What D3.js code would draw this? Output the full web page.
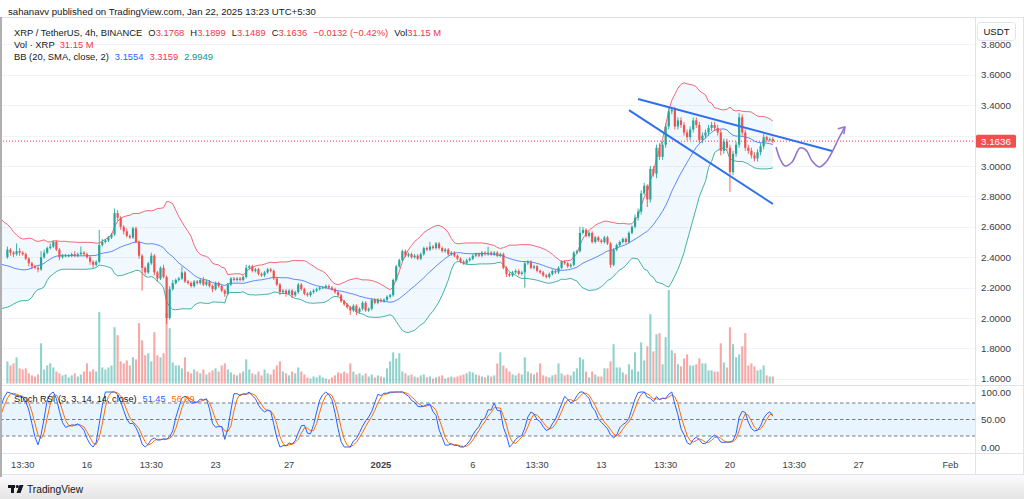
<!DOCTYPE html>
<html><head><meta charset="utf-8">
<script src="https://cdn.jsdelivr.net/npm/d3@7/dist/d3.min.js"></script>
<style>
body{margin:0;background:#fff;overflow:hidden}
svg{display:block;font-family:"Liberation Sans",Arial,sans-serif}
</style></head>
<body><svg id="c" width="1024" height="499"></svg>
<script>
// ---------------- DATA ----------------
// 4h bars (exchange time shown as UTC+5:30). First visible bar: 11 Dec 2024 17:30
const firstBar = Date.UTC(2024, 11, 11, 17, 30);
const barMs = 4 * 3600 * 1000;
// closes of the bars preceding the visible window (needed for BB / Stoch RSI warm-up, off screen)
const warmupCloses = [2.40, 2.33,
  2.36, 2.41, 2.45, 2.50, 2.48, 2.52,
  2.55, 2.52, 2.50, 2.48, 2.49, 2.50,
  2.52, 2.55, 2.53, 2.56, 2.57, 2.55,
  2.52, 2.47, 2.38, 2.28, 2.18, 2.13,
  2.20, 2.30, 2.25, 2.15, 2.22, 2.27,
  2.30, 2.33, 2.36, 2.40];
// visible bars: close
const closes = [2.45, 2.43,
  2.42, 2.44, 2.43, 2.42, 2.39, 2.36,
  2.34, 2.33, 2.32, 2.40, 2.43, 2.46,
  2.47, 2.50, 2.45, 2.40, 2.41, 2.41,
  2.41, 2.42, 2.41, 2.42, 2.43, 2.42,
  2.40, 2.37, 2.35, 2.37, 2.48, 2.50,
  2.51, 2.53, 2.55, 2.69, 2.66, 2.60,
  2.57, 2.54, 2.53, 2.59, 2.50, 2.41,
  2.33, 2.30, 2.36, 2.41, 2.30, 2.26,
  2.33, 2.27, 2.00, 2.19, 2.23, 2.25,
  2.26, 2.30, 2.24, 2.23, 2.21, 2.24,
  2.23, 2.25, 2.22, 2.24, 2.21, 2.19,
  2.23, 2.21, 2.18, 2.16, 2.22, 2.26,
  2.25, 2.26, 2.25, 2.27, 2.33, 2.34,
  2.31, 2.32, 2.29, 2.28, 2.30, 2.32,
  2.31, 2.26, 2.22, 2.17, 2.18, 2.16,
  2.18, 2.15, 2.17, 2.22, 2.19, 2.16,
  2.15, 2.17, 2.18, 2.19, 2.20, 2.20,
  2.21, 2.20, 2.19, 2.17, 2.15, 2.11,
  2.09, 2.07, 2.05, 2.08, 2.04, 2.06,
  2.10, 2.05, 2.06, 2.12, 2.10, 2.12,
  2.11, 2.12, 2.14, 2.15, 2.25, 2.34,
  2.38, 2.44, 2.41, 2.42, 2.40, 2.41,
  2.39, 2.42, 2.46, 2.45, 2.47, 2.46,
  2.49, 2.46, 2.44, 2.45, 2.42, 2.43,
  2.41, 2.39, 2.37, 2.36, 2.38, 2.39,
  2.41, 2.42, 2.41, 2.43, 2.42, 2.43,
  2.42, 2.43, 2.41, 2.42, 2.33, 2.29,
  2.28, 2.30, 2.31, 2.29, 2.30, 2.36,
  2.37, 2.33, 2.34, 2.31, 2.30, 2.28,
  2.27, 2.29, 2.31, 2.30, 2.33, 2.37,
  2.36, 2.34, 2.35, 2.43, 2.44, 2.56,
  2.58, 2.54, 2.56, 2.50, 2.53, 2.51,
  2.50, 2.53, 2.49, 2.35, 2.45, 2.48,
  2.50, 2.52, 2.50, 2.56, 2.60, 2.66,
  2.70, 2.82, 2.87, 2.78, 2.98, 2.95,
  3.12, 3.06, 3.14, 3.26, 3.36, 3.37,
  3.26, 3.30, 3.27, 3.22, 3.19, 3.24,
  3.30, 3.27, 3.17, 3.20, 3.22, 3.25,
  3.27, 3.25, 3.22, 3.10, 3.16, 3.12,
  2.96, 3.08, 3.14, 3.32, 3.22, 3.12,
  3.10, 3.07, 3.05, 3.09, 3.13, 3.19,
  3.17, 3.1768, 3.1636];
// wick above the body top
const upperWicks = [.02, .01,
  .01, .05, .02, .01, .01, .01,
  .01, .01, .01, .04, .02, .01,
  .02, .01, .01, .01, .01, .01,
  .01, .01, .02, .01, .04, .01,
  .01, .01, .01, .01, .10, .02,
  .01, .01, .01, .03, .02, .01,
  .01, .02, .01, .01, .01, .01,
  .01, .01, .01, .02, .01, .01,
  .01, .02, .01, .02, .02, .01,
  .01, .04, .01, .01, .01, .01,
  .01, .01, .02, .01, .01, .01,
  .01, .01, .01, .01, .01, .01,
  .01, .01, .01, .01, .02, .01,
  .01, .01, .01, .01, .01, .01,
  .01, .01, .01, .01, .01, .01,
  .01, .01, .01, .01, .01, .01,
  .01, .01, .01, .01, .01, .01,
  .01, .01, .01, .01, .01, .01,
  .01, .01, .01, .01, .01, .01,
  .01, .01, .01, .01, .01, .01,
  .01, .01, .01, .01, .01, .01,
  .01, .01, .01, .01, .01, .01,
  .01, .01, .01, .01, .03, .01,
  .01, .01, .01, .01, .01, .01,
  .01, .01, .01, .01, .01, .01,
  .01, .01, .01, .01, .01, .04,
  .01, .01, .01, .01, .01, .01,
  .01, .01, .01, .01, .01, .01,
  .01, .01, .01, .01, .01, .01,
  .01, .01, .01, .01, .01, .01,
  .01, .01, .01, .01, .01, .04,
  .02, .01, .01, .01, .01, .01,
  .01, .01, .01, .01, .01, .01,
  .01, .01, .01, .01, .01, .02,
  .02, .02, .02, .01, .02, .02,
  .02, .03, .02, .02, .02, .02,
  .02, .02, .02, .02, .02, .02,
  .02, .02, .02, .02, .02, .02,
  .02, .02, .02, .02, .02, .02,
  .02, .02, .02, .03, .02, .02,
  .02, .02, .02, .02, .02, .02,
  .01, .01, .0131];
// wick below the body bottom
const lowerWicks = [.01, .02,
  .02, .01, .02, .01, .01, .02,
  .02, .01, .02, .01, .01, .01,
  .01, .01, .01, .02, .01, .01,
  .01, .01, .01, .01, .01, .01,
  .01, .02, .02, .01, .01, .01,
  .01, .01, .01, .01, .02, .02,
  .02, .01, .01, .01, .01, .02,
  .15, .02, .01, .01, .02, .02,
  .01, .01, .04, .01, .01, .01,
  .01, .01, .01, .01, .01, .01,
  .01, .01, .01, .01, .01, .02,
  .01, .01, .01, .02, .01, .01,
  .01, .01, .01, .01, .01, .01,
  .01, .01, .01, .01, .01, .01,
  .01, .01, .01, .02, .01, .02,
  .01, .02, .01, .01, .01, .01,
  .01, .01, .01, .01, .01, .01,
  .01, .01, .01, .01, .01, .01,
  .01, .01, .03, .01, .02, .01,
  .01, .01, .01, .01, .01, .01,
  .01, .01, .01, .01, .01, .01,
  .01, .01, .01, .01, .01, .01,
  .01, .01, .01, .01, .01, .01,
  .01, .01, .01, .01, .01, .01,
  .01, .01, .01, .01, .01, .01,
  .01, .01, .01, .01, .01, .01,
  .01, .01, .01, .01, .01, .02,
  .01, .01, .01, .01, .01, .10,
  .01, .01, .01, .01, .01, .01,
  .01, .01, .01, .01, .01, .01,
  .01, .01, .01, .01, .01, .01,
  .01, .01, .01, .01, .01, .01,
  .01, .01, .01, .02, .01, .01,
  .01, .01, .01, .01, .01, .01,
  .02, .02, .01, .05, .02, .02,
  .03, .02, .02, .02, .02, .02,
  .02, .02, .02, .02, .02, .02,
  .02, .02, .02, .02, .02, .02,
  .02, .02, .02, .03, .02, .02,
  .13, .02, .02, .02, .02, .02,
  .02, .02, .02, .02, .02, .02,
  .01, .01, .0147];
// volume, millions XRP
const volumes = [98, 80,
  89, 116, 67, 62, 67, 45,
  36, 31, 40, 178, 62, 80,
  89, 71, 53, 45, 36, 40,
  27, 36, 45, 31, 40, 53,
  89, 53, 62, 53, 316, 71,
  62, 71, 80, 249, 214, 98,
  89, 102, 80, 116, 107, 267,
  191, 125, 134, 98, 227, 125,
  116, 134, 312, 245, 93, 80,
  80, 67, 116, 53, 45, 62,
  53, 45, 62, 40, 49, 58,
  67, 53, 80, 89, 62, 49,
  40, 36, 45, 53, 107, 62,
  45, 40, 53, 36, 62, 45,
  40, 62, 80, 98, 53, 45,
  36, 53, 45, 71, 53, 40,
  27, 22, 31, 27, 36, 27,
  22, 18, 27, 36, 49, 45,
  53, 45, 89, 53, 40, 45,
  36, 45, 31, 40, 27, 36,
  31, 27, 67, 98, 138, 111,
  134, 53, 45, 36, 40, 31,
  27, 36, 40, 27, 31, 22,
  27, 31, 36, 22, 27, 31,
  27, 31, 36, 40, 45, 53,
  49, 40, 36, 31, 27, 36,
  31, 36, 89, 138, 80, 67,
  53, 40, 36, 45, 40, 116,
  53, 45, 40, 49, 89, 36,
  31, 27, 36, 40, 89, 45,
  36, 40, 36, 53, 67, 116,
  107, 53, 27, 53, 40, 31,
  31, 67, 67, 98, 174, 71,
  71, 49, 40, 85, 62, 138,
  53, 182, 102, 165, 307, 142,
  218, 223, 85, 205, 414, 147,
  134, 85, 76, 111, 129, 80,
  80, 85, 111, 89, 89, 58,
  58, 53, 53, 178, 93, 71,
  249, 174, 116, 129, 165, 223,
  80, 89, 76, 58, 62, 80,
  36, 31, 31.15];

const priceTicks = [3.8, 3.6, 3.4, 3.2, 3.0, 2.8, 2.6, 2.4, 2.2, 2.0, 1.8, 1.6];
const stochTicks = [100, 50, 0];
const stochBands = [80, 50, 20];
// time-axis labels (exchange time)
const timeTickDates = ["2024-12-12T13:30", "2024-12-16T01:30", "2024-12-19T13:30", "2024-12-23T01:30",
  "2024-12-27T01:30", "2025-01-01T01:30", "2025-01-06T01:30", "2025-01-09T13:30", "2025-01-13T01:30",
  "2025-01-16T13:30", "2025-01-20T01:30", "2025-01-23T13:30", "2025-01-27T01:30", "2025-02-01T01:30"];
const timeTickLabels = ["13:30", "16", "13:30", "23", "27", "2025", "6", "13:30", "13", "13:30", "20", "13:30", "27", "Feb"];

// drawings (x in days after 16 Dec 01:30, y in price)
const wedgeUpperDays = [30.0, 40.56], wedgeUpperPrices = [3.441, 3.099];
const wedgeLowerDays = [29.5, 37.34], wedgeLowerPrices = [3.368, 2.75];
const pathDays = [37.51, 37.73, 38.0, 38.38, 38.81, 39.14, 39.47, 39.85, 40.23, 40.56, 40.88, 41.26];
const pathPrices = [3.125, 3.046, 3.0, 3.026, 3.118, 3.105, 3.033, 2.993, 3.026, 3.092, 3.171, 3.257];
const arrowHeadDays = [40.87, 41.26, 41.2], arrowHeadPrices = [3.245, 3.257, 3.21];

const lastPrice = 3.1636;

// ---------------- CHART ----------------
const svg = d3.select("#c");
const PR = 975; // right edge of the panes
const utc = s => { const [d, t] = s.split("T"); const [Y, M, D] = d.split("-").map(Number); const [h, m] = t.split(":").map(Number); return Date.UTC(Y, M - 1, D, h, m); };
const base = Date.UTC(2024, 11, 16, 1, 30);
const x = d3.scaleUtc().domain([base, utc("2025-02-01T01:30")]).range([87, 950.4]);
const xd = d => x(base + d * 86400000);
const y = d3.scaleLinear().domain([2.0, 3.6]).range([318, 74.8]);
const yVol = d3.scaleLinear().domain([0, 600]).range([383.5, 248]);
const ySt = d3.scaleLinear().domain([0, 100]).range([447, 392]);

const GREEN = "#26a69a", RED = "#ef5350";

// candles
const all = warmupCloses.concat(closes);
const W0 = warmupCloses.length;
const bars = closes.map((c, i) => {
  const o = all[W0 + i - 1];
  return { t: firstBar + i * barMs, o, c, h: Math.max(o, c) + upperWicks[i], l: Math.min(o, c) - lowerWicks[i], v: volumes[i], up: c >= o };
});

// Bollinger Bands (20, 2)
const bb = [];
for (let j = 19; j < all.length; j++) {
  const w = all.slice(j - 19, j + 1);
  const m = d3.mean(w);
  const sd = Math.sqrt(d3.mean(w, v => (v - m) * (v - m)));
  bb.push({ t: firstBar + (j - W0) * barMs, m, u: m + 2 * sd, l: m - 2 * sd });
}
const bbVis = bb.filter(d => d.t >= firstBar - 2 * barMs);

// Stoch RSI (3,3,14,14)
const n = all.length, len = 14;
const rsi = new Array(n).fill(null);
let au = 0, ad = 0;
for (let i = 1; i <= len; i++) { const ch = all[i] - all[i - 1]; au += Math.max(ch, 0); ad += Math.max(-ch, 0); }
au /= len; ad /= len;
rsi[len] = ad === 0 ? 100 : 100 - 100 / (1 + au / ad);
for (let i = len + 1; i < n; i++) {
  const ch = all[i] - all[i - 1];
  au = (au * (len - 1) + Math.max(ch, 0)) / len;
  ad = (ad * (len - 1) + Math.max(-ch, 0)) / len;
  rsi[i] = ad === 0 ? 100 : au === 0 ? 0 : 100 - 100 / (1 + au / ad);
}
const st = new Array(n).fill(null);
for (let i = len + 13; i < n; i++) {
  const w = rsi.slice(i - 13, i + 1);
  const lo = d3.min(w), hi = d3.max(w);
  st[i] = hi === lo ? 50 : 100 * (rsi[i] - lo) / (hi - lo);
}
const kk = new Array(n).fill(null), dd = new Array(n).fill(null);
for (let i = 0; i < n; i++) if (i >= 2 && st[i - 2] != null) kk[i] = (st[i] + st[i - 1] + st[i - 2]) / 3;
for (let i = 0; i < n; i++) if (i >= 2 && kk[i - 2] != null) dd[i] = (kk[i] + kk[i - 1] + kk[i - 2]) / 3;
const stoch = [];
for (let i = W0 - 2; i < n; i++) stoch.push({ t: firstBar + (i - W0) * barMs, k: kk[i], d: dd[i] });

// ------- background frame -------
const defs = svg.append("defs");
defs.append("clipPath").attr("id", "mainClip").append("rect").attr("x", 2).attr("y", 17).attr("width", PR - 2).attr("height", 368);
defs.append("clipPath").attr("id", "stClip").append("rect").attr("x", 2).attr("y", 386).attr("width", PR - 2).attr("height", 66);
const grad = defs.append("linearGradient").attr("id", "foot").attr("x1", 0).attr("y1", 0).attr("x2", 0).attr("y2", 1);
grad.append("stop").attr("offset", "0%").attr("stop-color", "#fbfbfb");
grad.append("stop").attr("offset", "100%").attr("stop-color", "#e4e4e4");

svg.append("rect").attr("width", 1024).attr("height", 499).attr("fill", "#fff");
svg.append("text").attr("x", 8).attr("y", 14.5).attr("font-size", 9.6).attr("fill", "#131722")
  .text("sahanavv published on TradingView.com, Jan 22, 2025 13:23 UTC+5:30");
svg.append("rect").attr("x", 0.5).attr("y", 17.5).attr("width", 1023).attr("height", 459).attr("fill", "none").attr("stroke", "#e0e3eb");

// grid
const gMain = svg.append("g").attr("clip-path", "url(#mainClip)");
gMain.selectAll("line.grid").data(priceTicks).join("line").attr("class", "grid")
  .attr("x1", 0).attr("x2", PR).attr("y1", d => Math.round(y(d)) + 0.5).attr("y2", d => Math.round(y(d)) + 0.5)
  .attr("stroke", "#f0f3fa");

// BB fill
gMain.append("path").datum(bbVis).attr("fill", "rgba(33,150,243,0.06)")
  .attr("d", d3.area().x(d => x(d.t)).y0(d => y(d.l)).y1(d => y(d.u)));

// volume
gMain.selectAll("rect.vol").data(bars).join("rect").attr("class", "vol")
  .attr("x", d => x(d.t) - 1.05).attr("width", 2.1)
  .attr("y", d => yVol(d.v)).attr("height", d => yVol(0) - yVol(d.v))
  .attr("fill", d => d.up ? "rgba(38,166,154,0.5)" : "rgba(239,83,80,0.5)");

// BB lines
const bbLine = key => d3.line().x(d => x(d.t)).y(d => y(d[key]));
gMain.append("path").datum(bbVis).attr("fill", "none").attr("stroke", "#f23645").attr("stroke-opacity", 0.75).attr("stroke-width", 1).attr("d", bbLine("u"));
gMain.append("path").datum(bbVis).attr("fill", "none").attr("stroke", "#2962ff").attr("stroke-opacity", 0.75).attr("stroke-width", 1).attr("d", bbLine("m"));
gMain.append("path").datum(bbVis).attr("fill", "none").attr("stroke", "#089981").attr("stroke-opacity", 0.75).attr("stroke-width", 1).attr("d", bbLine("l"));

// candles
gMain.selectAll("line.wick").data(bars).join("line").attr("class", "wick")
  .attr("x1", d => x(d.t)).attr("x2", d => x(d.t)).attr("y1", d => y(d.h)).attr("y2", d => y(d.l))
  .attr("stroke", d => d.up ? GREEN : RED).attr("stroke-width", 0.9);
gMain.selectAll("rect.body").data(bars).join("rect").attr("class", "body")
  .attr("x", d => x(d.t) - 1.1).attr("width", 2.2)
  .attr("y", d => y(Math.max(d.o, d.c))).attr("height", d => Math.max(0.8, Math.abs(y(d.o) - y(d.c))))
  .attr("fill", d => d.up ? GREEN : RED);

// last price line
gMain.append("line").attr("x1", 0).attr("x2", PR).attr("y1", y(lastPrice)).attr("y2", y(lastPrice))
  .attr("stroke", "#f23645").attr("stroke-width", 1).attr("stroke-dasharray", "1,2");

// drawings
const seg = (ds, ps) => ds.map((d, i) => [xd(d), y(ps[i])]);
gMain.append("path").attr("d", d3.line()(seg(wedgeUpperDays, wedgeUpperPrices))).attr("stroke", "#2f6ff0").attr("stroke-width", 2).attr("fill", "none");
gMain.append("path").attr("d", d3.line()(seg(wedgeLowerDays, wedgeLowerPrices))).attr("stroke", "#2f6ff0").attr("stroke-width", 2).attr("fill", "none");
gMain.append("path").attr("d", d3.line().curve(d3.curveCatmullRom)(seg(pathDays, pathPrices))).attr("stroke", "#9575cd").attr("stroke-width", 1.6).attr("fill", "none");
gMain.append("path").attr("d", d3.line()(seg(arrowHeadDays, arrowHeadPrices))).attr("stroke", "#9575cd").attr("stroke-width", 1.6).attr("fill", "none").attr("stroke-linejoin", "round");

// pane separators
svg.append("line").attr("x1", 0).attr("x2", 1024).attr("y1", 385.5).attr("y2", 385.5).attr("stroke", "#e0e3eb");
svg.append("line").attr("x1", 0).attr("x2", 1024).attr("y1", 453.5).attr("y2", 453.5).attr("stroke", "#e0e3eb");
svg.append("line").attr("x1", PR + 0.5).attr("x2", PR + 0.5).attr("y1", 17).attr("y2", 476).attr("stroke", "#e0e3eb");

// Stoch pane
const gSt = svg.append("g").attr("clip-path", "url(#stClip)");
gSt.append("rect").attr("x", 0).attr("width", PR).attr("y", ySt(80)).attr("height", ySt(20) - ySt(80)).attr("fill", "rgba(33,150,243,0.1)");
gSt.selectAll("line.band").data(stochBands).join("line").attr("class", "band")
  .attr("x1", 0).attr("x2", PR).attr("y1", d => ySt(d)).attr("y2", d => ySt(d))
  .attr("stroke", "#787b86").attr("stroke-dasharray", "3.5,2.5").attr("stroke-width", 1);
gSt.append("path").datum(stoch.filter(d => d.d != null)).attr("fill", "none").attr("stroke", "#ff6d00").attr("stroke-width", 1)
  .attr("d", d3.line().x(d => x(d.t)).y(d => ySt(d.d)));
gSt.append("path").datum(stoch.filter(d => d.k != null)).attr("fill", "none").attr("stroke", "#2962ff").attr("stroke-width", 1)
  .attr("d", d3.line().x(d => x(d.t)).y(d => ySt(d.k)));

// ---- legends ----
const leg = (yy, parts, size) => {
  const t = svg.append("text").attr("x", 14).attr("y", yy).attr("font-size", size || 9.4);
  parts.forEach(p => t.append("tspan").attr("fill", p[1]).attr("dx", p[2] || 0).text(p[0]));
  return t;
};
const DK = "#131722", RD = "#f23645";
leg(35.5, [["XRP / TetherUS, 4h, BINANCE", DK], ["O", DK, 6], ["3.1768", RD], ["H", DK, 6], ["3.1899", RD], ["L", DK, 6], ["3.1489", RD], ["C", DK, 6], ["3.1636", RD], ["\u22120.0132 (\u22120.42%)", RD, 6], ["Vol", DK, 6], ["31.15 M", RD]]);
leg(47.5, [["Vol \u00b7 XRP", DK], ["31.15 M", RD, 5]]);
leg(59.5, [["BB (20, SMA, close, 2)", DK], ["3.1554", "#2962ff", 6], ["3.3159", RD, 6], ["2.9949", "#089981", 6]]);
leg(401.5, [["Stoch RSI (3, 3, 14, 14, close)", DK], ["51.45", "#2962ff", 6], ["56.09", "#ff6d00", 6]], 9.2);

// ---- right price scale ----
// the label under the last-price tag is hidden, as on the reference
const tagTop = y(lastPrice) - 6.5, tagBot = y(lastPrice) + 6.5;
svg.selectAll("text.py").data(priceTicks.filter(d => y(d) + 4 < tagTop || y(d) - 4 > tagBot)).join("text").attr("class", "py")
  .attr("x", 981).attr("y", d => y(d) + 3.5).attr("font-size", 9.8).attr("fill", "#3b3e47")
  .text(d => d3.format(".4f")(d));
svg.selectAll("text.sy").data(stochTicks).join("text").attr("class", "sy")
  .attr("x", 981).attr("y", d => ySt(d) + 3.5).attr("font-size", 9.8).attr("fill", "#3b3e47")
  .text(d => d3.format(".2f")(d));
svg.append("rect").attr("x", 977.5).attr("y", 22.5).attr("width", 38).attr("height", 18).attr("rx", 3).attr("fill", "#fff").attr("stroke", "#e0e3eb");
svg.append("text").attr("x", 996.5).attr("y", 35).attr("text-anchor", "middle").attr("font-size", 9.6).attr("fill", "#131722").text("USDT");
// last price tag
svg.append("rect").attr("x", 976).attr("y", tagTop).attr("width", 40).attr("height", 13).attr("rx", 1.5).attr("fill", "#f0504f");
svg.append("text").attr("x", 981).attr("y", y(lastPrice) + 3.5).attr("font-size", 9.8).attr("fill", "#fff").text(d3.format(".4f")(lastPrice));

// ---- time axis ----
svg.selectAll("text.tx").data(timeTickDates).join("text").attr("class", "tx")
  .attr("x", d => x(utc(d))).attr("y", 467.5).attr("text-anchor", "middle").attr("font-size", 9.3)
  .attr("font-weight", (d, i) => timeTickLabels[i] === "2025" ? "bold" : "normal")
  .attr("fill", "#3b3e47").text((d, i) => timeTickLabels[i]);
svg.append("line").attr("x1", 0).attr("x2", 1024).attr("y1", 474.5).attr("y2", 474.5).attr("stroke", "#e0e3eb");

// ---- footer ----
svg.append("rect").attr("x", 0).attr("y", 475).attr("width", 1024).attr("height", 24).attr("fill", "url(#foot)");
const logo = svg.append("g").attr("fill", "#131722");
logo.append("rect").attr("x", 8).attr("y", 485).attr("width", 7).attr("height", 3);
logo.append("rect").attr("x", 11).attr("y", 485).attr("width", 3).attr("height", 8);
logo.append("circle").attr("cx", 17.3).attr("cy", 486.5).attr("r", 1.6);
logo.append("path").attr("d", "M19.5,485 L23.5,485 L20.5,493 L16.5,493 Z");
svg.append("text").attr("x", 27).attr("y", 492.5).attr("font-size", 10.2).attr("fill", "#131722").attr("font-weight", 500).text("TradingView");
// left border
svg.append("rect").attr("x", 0).attr("y", 17).attr("width", 2).attr("height", 460).attr("fill", "#b0b0b0");
</script>
</body></html>
